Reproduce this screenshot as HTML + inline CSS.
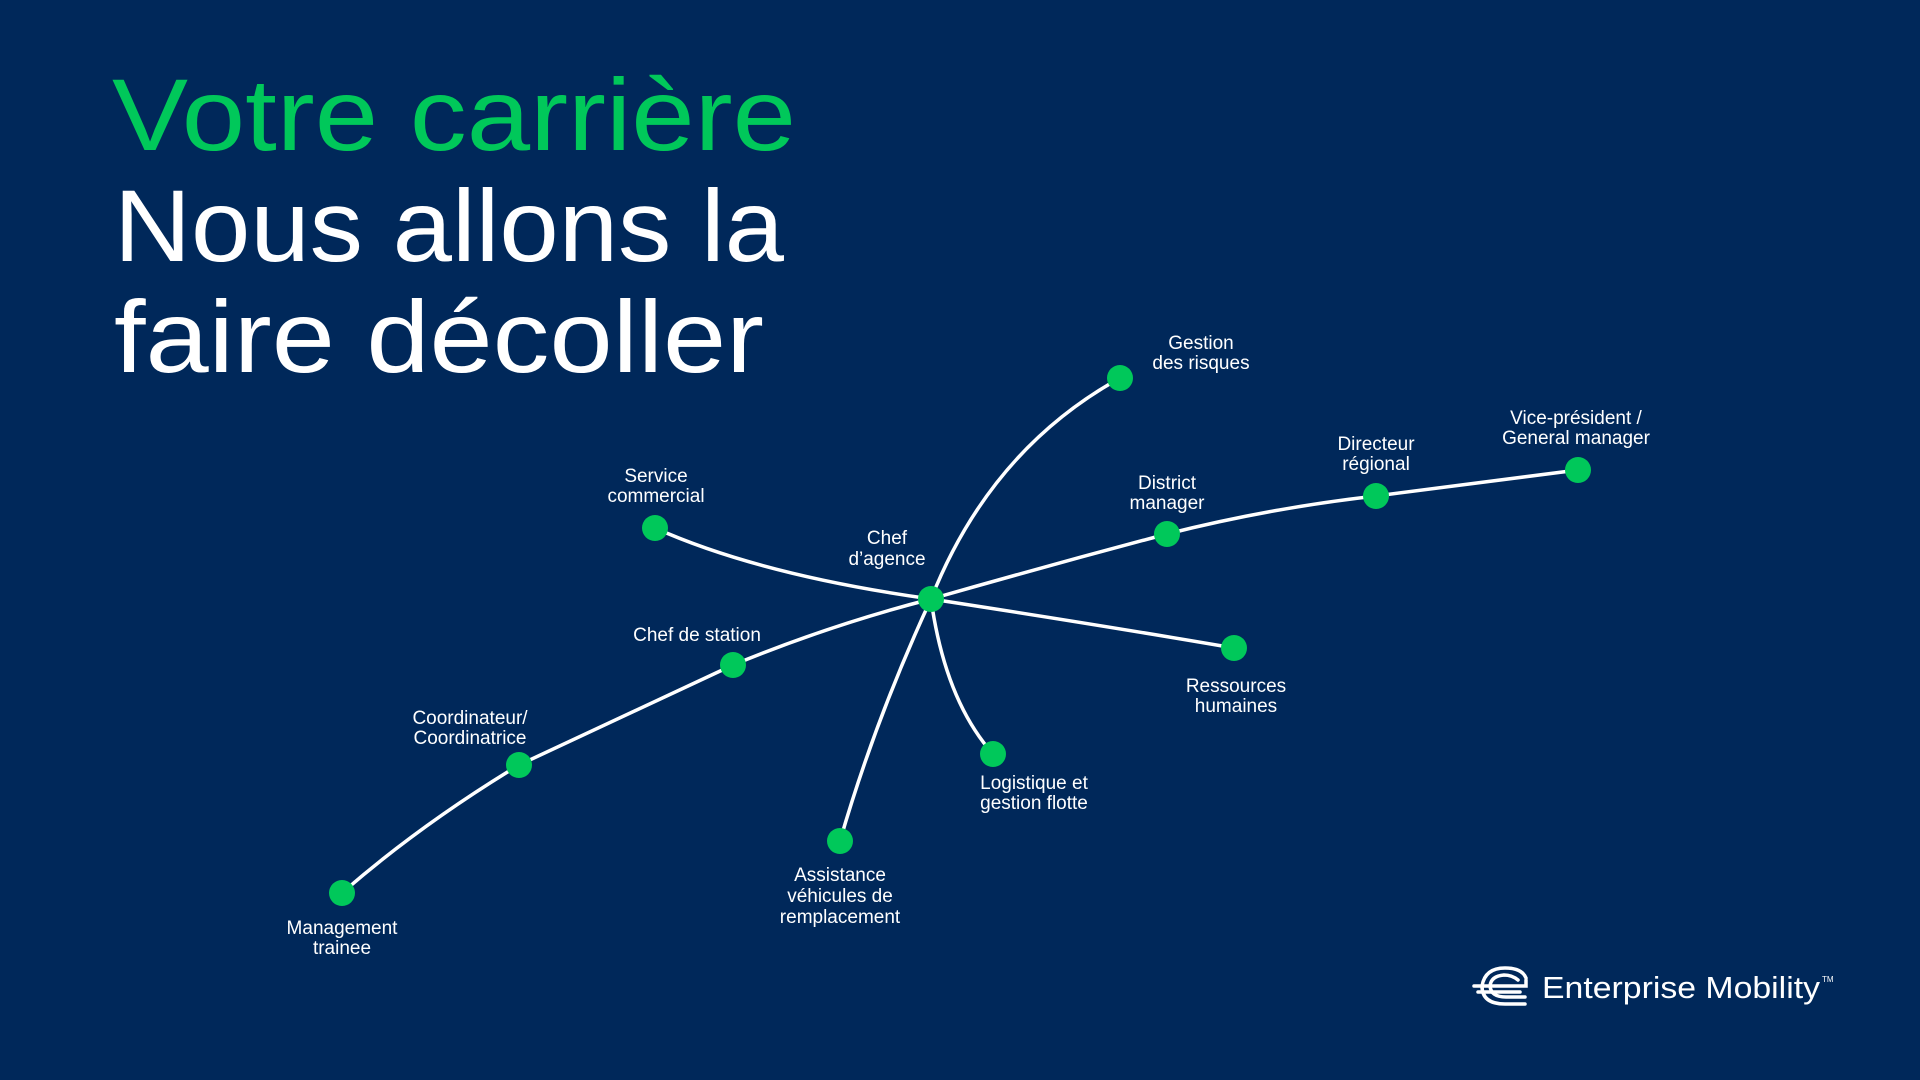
<!DOCTYPE html>
<html><head><meta charset="utf-8"><style>
html,body{margin:0;padding:0;background:#00285a;}
svg{display:block}
</style></head><body>
<svg width="1920" height="1080" viewBox="0 0 1920 1080" xmlns="http://www.w3.org/2000/svg">
<rect width="1920" height="1080" fill="#00285a"/>
<g font-family="Liberation Sans, sans-serif" font-size="102">
<text x="112" y="150" fill="#00c85a" textLength="684" lengthAdjust="spacingAndGlyphs">Votre carrière</text>
<text x="114" y="261" fill="#ffffff" textLength="670" lengthAdjust="spacingAndGlyphs">Nous allons la</text>
<text x="114" y="372" fill="#ffffff" textLength="650" lengthAdjust="spacingAndGlyphs">faire décoller</text>
</g>
<g fill="none" stroke="#ffffff" stroke-width="3.5" stroke-linecap="round">
<path d="M931 599 Q990 450 1120 378"/>
<path d="M931 599 Q1050 565 1167 534 Q1270 508 1376 496 L1578 470"/>
<path d="M931 599 Q760 575 655 528"/>
<path d="M931 599 Q830 625 733 665 L519 765 Q420 825 342 893"/>
<path d="M931 599 Q1100 625 1234 648"/>
<path d="M931 599 Q945 700 993 754"/>
<path d="M931 599 Q875 720 840 841"/>
</g>
<g fill="#00c85a">
<circle cx="931" cy="599" r="13"/><circle cx="1120" cy="378" r="13"/>
<circle cx="1167" cy="534" r="13"/><circle cx="1376" cy="496" r="13"/>
<circle cx="1578" cy="470" r="13"/><circle cx="655" cy="528" r="13"/>
<circle cx="733" cy="665" r="13"/><circle cx="519" cy="765" r="13"/>
<circle cx="342" cy="893" r="13"/><circle cx="1234" cy="648" r="13"/>
<circle cx="993" cy="754" r="13"/><circle cx="840" cy="841" r="13"/>
</g>
<g font-family="Liberation Sans, sans-serif" font-size="19" fill="#ffffff" text-anchor="middle">
<text x="1201" y="349">Gestion</text><text x="1201" y="369">des risques</text>
<text x="1576" y="424">Vice-président /</text><text x="1576" y="444">General manager</text>
<text x="1376" y="450">Directeur</text><text x="1376" y="470">régional</text>
<text x="1167" y="489">District</text><text x="1167" y="509">manager</text>
<text x="887" y="544">Chef</text><text x="887" y="565">d’agence</text>
<text x="656" y="482">Service</text><text x="656" y="502">commercial</text>
<text x="697" y="641">Chef de station</text>
<text x="470" y="724">Coordinateur/</text><text x="470" y="744">Coordinatrice</text>
<text x="342" y="934">Management</text><text x="342" y="954">trainee</text>
<text x="1236" y="692">Ressources</text><text x="1236" y="712">humaines</text>
<text x="1034" y="789">Logistique et</text><text x="1034" y="809">gestion flotte</text>
<text x="840" y="881">Assistance</text><text x="840" y="902">véhicules de</text><text x="840" y="923">remplacement</text>
</g>
<g fill="none" stroke="#ffffff" stroke-width="3.5" stroke-linecap="round">
<path d="M1526 978 Q1522 968 1505 968 Q1485 968 1482 986 Q1482 1004 1505 1004 L1525 1004"/>
<path d="M1518 980 Q1512 975 1504 975 Q1491 976 1490 986 Q1491 997 1506 997 L1525 997"/>
<path d="M1474 986 L1526 986 L1526 980"/>
<path d="M1478 992 L1520 992"/>
</g>
<text x="1542" y="998" font-family="Liberation Sans, sans-serif" font-size="31" fill="#ffffff" textLength="278" lengthAdjust="spacingAndGlyphs">Enterprise Mobility</text>
<text x="1822" y="982" font-family="Liberation Sans, sans-serif" font-size="8" fill="#ffffff">TM</text>
</svg>
</body></html>
